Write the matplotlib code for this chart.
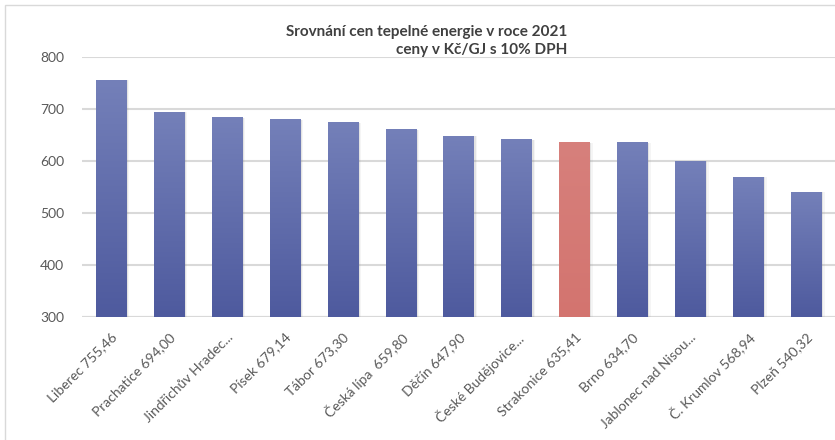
import numpy as np
import matplotlib.pyplot as plt
from matplotlib.patches import Rectangle
from matplotlib.colors import LinearSegmentedColormap

# data
labels = ["Liberec 755,46", "Prachatice 694,00", "Jindřichův Hradec...", "Písek 679,14",
          "Tábor 673,30", "Česká lípa  659,80", "Děčín 647,90", "České Budějovice...",
          "Strakonice 635,41", "Brno 634,70", "Jablonec nad Nisou...", "Č. Krumlov 568,94",
          "Plzeň 540,32"]
values = [755.46, 694.00, 683.0, 679.14, 673.30, 659.80, 647.90, 640.5, 635.41, 634.70,
          599.5, 568.94, 540.32]
highlight = "Strakonice 635,41"
yticks = [300, 400, 500, 600, 700, 800]

plt.rcParams['font.family'] = ['Lato', 'DejaVu Sans']

fig = plt.figure(figsize=(8.35, 4.4), dpi=100)
ax = fig.add_axes([82/835, 1 - 317/440, 753/835, 260/440])

blue = LinearSegmentedColormap.from_list("b", ["#4e5a9e", "#7480b9"])
red = LinearSegmentedColormap.from_list("r", ["#d3746f", "#d7807c"])
grad = np.linspace(0, 1, 256).reshape(-1, 1)

x = np.arange(len(labels))
w = 0.52
ymin = 300
for i, v in enumerate(values):
    # soft shadow
    for k, a in [(0.06, 0.08), (0.035, 0.15)]:
        ax.add_patch(Rectangle((i - w/2 + k, ymin), w, v - ymin - k*8, color="#808080",
                               alpha=a, lw=0, zorder=2))
    cm = red if labels[i] == highlight else blue
    ax.imshow(grad, cmap=cm, origin="lower", aspect="auto",
              extent=[i - w/2, i + w/2, ymin, v], zorder=3)

ax.set_xlim(-0.5, len(labels) - 0.5)
ax.set_ylim(300, 800)
ax.set_yticks(yticks)
ax.yaxis.grid(True, color="#d9d9d9", lw=1.5, zorder=0)
ax.set_axisbelow(True)
for s in ax.spines.values():
    s.set_visible(False)
ax.axhline(300, color="#d9d9d9", lw=1.5, zorder=1)
ax.tick_params(axis="both", length=0, colors="#595959", labelsize=10)
ax.tick_params(axis="y", pad=13)
ax.set_xticks(x)
ax.set_xticklabels(labels, rotation=45, ha="right", va="top", rotation_mode="anchor")
ax.tick_params(axis="x", pad=10)

fig.text(567/835, 1 - 41/440, "Srovnání cen tepelné energie v roce 2021\nceny v Kč/GJ s 10% DPH",
         ha="right", va="center", multialignment="right", fontsize=11, fontweight="bold",
         color="#404040", linespacing=1.3)

fig.patches.append(Rectangle((5/835, -0.1), 1.1, 1 - 5/440 + 0.1, transform=fig.transFigure,
                             fill=False, edgecolor="#d9d9d9", lw=1))

fig.savefig("out.png", dpi=100)
